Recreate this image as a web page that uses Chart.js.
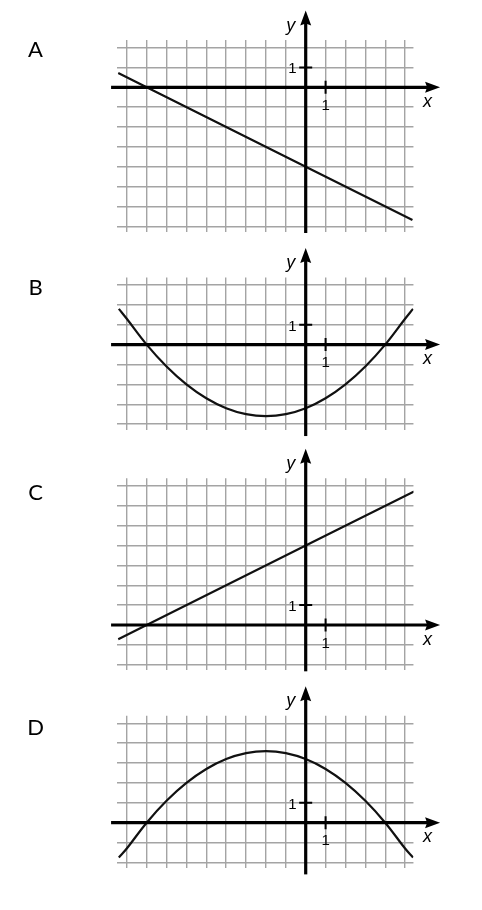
<!DOCTYPE html>
<html>
<head>
<meta charset="utf-8">
<script src="https://cdn.jsdelivr.net/npm/chart.js@4.4.1/dist/chart.umd.min.js"></script>
<style>
  html, body { margin: 0; padding: 0; background: #fff; }
  #page { position: relative; width: 482px; height: 910px; overflow: hidden; }
  #page canvas { position: absolute; left: 0; top: 0; }
</style>
</head>
<body>
<div id="page">
  <canvas id="chartA" width="482" height="910"></canvas>
  <canvas id="chartB" width="482" height="910"></canvas>
  <canvas id="chartC" width="482" height="910"></canvas>
  <canvas id="chartD" width="482" height="910"></canvas>
</div>
<script>
// panel names
const panelNames = ['A', 'B', 'C', 'D'];

// grid lines (one per unit)
const xGrid = [-9, -8, -7, -6, -5, -4, -3, -2, -1, 0, 1, 2, 3, 4, 5];
const yGridA = [-7, -6, -5, -4, -3, -2, -1, 0, 1, 2];
const yGridB = [-4, -3, -2, -1, 0, 1, 2, 3];
const yGridC = [-2, -1, 0, 1, 2, 3, 4, 5, 6, 7];
const yGridD = [-2, -1, 0, 1, 2, 3, 4, 5];

// A: falling straight line
const aX = [-9.43, -8, 0, 5.37];
const aY = [0.72, 0, -4, -6.68];

// B: parabola opening up
const bX = [-9.4, -9, -8, -7, -6, -5, -4, -3, -2, -1, 0, 1, 2, 3, 4, 5, 5.4];
const bY = [1.8, 1.3, 0, -1.1, -2.0, -2.7, -3.2, -3.5, -3.6, -3.5, -3.2, -2.7, -2.0, -1.1, 0, 1.3, 1.8];

// C: rising straight line
const cX = [-9.43, -8, 0, 5.45];
const cY = [-0.72, 0, 4, 6.72];

// D: parabola opening down
const dX = [-9.4, -9, -8, -7, -6, -5, -4, -3, -2, -1, 0, 1, 2, 3, 4, 5, 5.4];
const dY = [-1.75, -1.3, 0, 1.1, 2.0, 2.7, 3.2, 3.5, 3.6, 3.5, 3.2, 2.7, 2.0, 1.1, 0, -1.3, -1.75];

// layout
const UNIT = 19.88;            // px per grid square
const X_ZERO = 305.7;          // page x of the y axis
const X_MIN = -9.47, X_MAX = 5.42;
const OVER_TOP = 0.38, OVER_BOTTOM = 0.28;
const GRID_COLOR = '#a4a4a4';
const layout = [
  { zeroY: 87.3,  letterY: 49.5,  axisBelow: 0.33 },
  { zeroY: 344.6, letterY: 288,   axisBelow: 0.6 },
  { zeroY: 625,   letterY: 492.7, axisBelow: 0.33 },
  { zeroY: 822.7, letterY: 727.7, axisBelow: 0.6 }
];

// draws the thick axes with arrows, unit ticks and labels
const axesPlugin = {
  id: 'mathAxes',
  afterDatasetsDraw(chart, args, opts) {
    const ctx = chart.ctx;
    const px = v => chart.scales.x.getPixelForValue(v);
    const py = v => chart.scales.y.getPixelForValue(v);
    const ox = px(0), oy = py(0);
    ctx.save();
    ctx.fillStyle = '#000';
    ctx.strokeStyle = '#000';

    // x axis
    const xTip = px(6.76);
    ctx.lineWidth = 3.2;
    ctx.beginPath();
    ctx.moveTo(px(-9.79), oy);
    ctx.lineTo(xTip - 9, oy);
    ctx.stroke();
    ctx.beginPath();
    ctx.moveTo(xTip, oy);
    ctx.lineTo(xTip - 15, oy - 5.5);
    ctx.lineTo(xTip - 13, oy);
    ctx.lineTo(xTip - 15, oy + 5.5);
    ctx.closePath();
    ctx.fill();

    // y axis
    const yTip = py(opts.yTop + 1.86);
    ctx.beginPath();
    ctx.moveTo(ox, py(opts.yBottom - opts.axisBelow));
    ctx.lineTo(ox, yTip + 9);
    ctx.stroke();
    ctx.beginPath();
    ctx.moveTo(ox, yTip);
    ctx.lineTo(ox - 5.5, yTip + 15);
    ctx.lineTo(ox, yTip + 13);
    ctx.lineTo(ox + 5.5, yTip + 15);
    ctx.closePath();
    ctx.fill();

    // unit ticks
    ctx.lineWidth = 2;
    ctx.beginPath();
    ctx.moveTo(ox - 6.5, py(1));
    ctx.lineTo(ox + 6.5, py(1));
    ctx.moveTo(px(1), oy - 6.5);
    ctx.lineTo(px(1), oy + 6.5);
    ctx.stroke();

    // labels
    ctx.textBaseline = 'alphabetic';
    ctx.font = '15px "Liberation Sans", Arial, sans-serif';
    ctx.textAlign = 'right';
    ctx.fillText('1', ox - 9, py(1) + 6);
    ctx.textAlign = 'center';
    ctx.fillText('1', px(1), oy + 22.5);
    ctx.font = 'italic 18px "Liberation Sans", Arial, sans-serif';
    ctx.fillText('x', px(6.13), oy + 19.7);
    ctx.fillText('y', ox - 15, yTip + 20);
    ctx.font = '22px Lato, "Noto Sans", sans-serif';
    ctx.textBaseline = 'middle';
    ctx.fillText(opts.letter, 35.5, opts.letterY);
    ctx.restore();
  }
};

function makePanel(i, canvasId, xs, ys, yGrid, curved) {
  const L = layout[i];
  const yTop = Math.max(...yGrid), yBottom = Math.min(...yGrid);
  const yMax = yTop + OVER_TOP, yMin = yBottom - OVER_BOTTOM;
  const top = L.zeroY - yMax * UNIT;
  const bottom = L.zeroY - yMin * UNIT;
  const left = X_ZERO + X_MIN * UNIT;
  const right = X_ZERO + X_MAX * UNIT;
  const gridOpts = { color: GRID_COLOR, lineWidth: 1.4, drawTicks: false };

  return new Chart(document.getElementById(canvasId), {
    type: 'scatter',
    data: {
      datasets: [{
        data: xs.map((x, k) => ({ x: x, y: ys[k] })),
        showLine: true,
        borderColor: '#111',
        borderWidth: 2.2,
        pointRadius: 0,
        tension: curved ? 0.4 : 0
      }]
    },
    options: {
      responsive: false,
      animation: false,
      events: [],
      layout: { padding: { left: left, right: 482 - right, top: top, bottom: 910 - bottom } },
      plugins: {
        legend: { display: false },
        tooltip: { enabled: false },
        mathAxes: { yTop: yTop, yBottom: yBottom, axisBelow: L.axisBelow, letter: panelNames[i], letterY: L.letterY }
      },
      scales: {
        x: {
          type: 'linear', min: X_MIN, max: X_MAX,
          ticks: { display: false },
          grid: gridOpts,
          border: { display: false },
          afterBuildTicks: s => { s.ticks = xGrid.map(v => ({ value: v })); }
        },
        y: {
          type: 'linear', min: yMin, max: yMax,
          ticks: { display: false },
          grid: gridOpts,
          border: { display: false },
          afterBuildTicks: s => { s.ticks = yGrid.map(v => ({ value: v })); }
        }
      }
    },
    plugins: [axesPlugin]
  });
}

makePanel(0, 'chartA', aX, aY, yGridA, false);
makePanel(1, 'chartB', bX, bY, yGridB, true);
makePanel(2, 'chartC', cX, cY, yGridC, false);
makePanel(3, 'chartD', dX, dY, yGridD, true);
</script>
</body>
</html>
